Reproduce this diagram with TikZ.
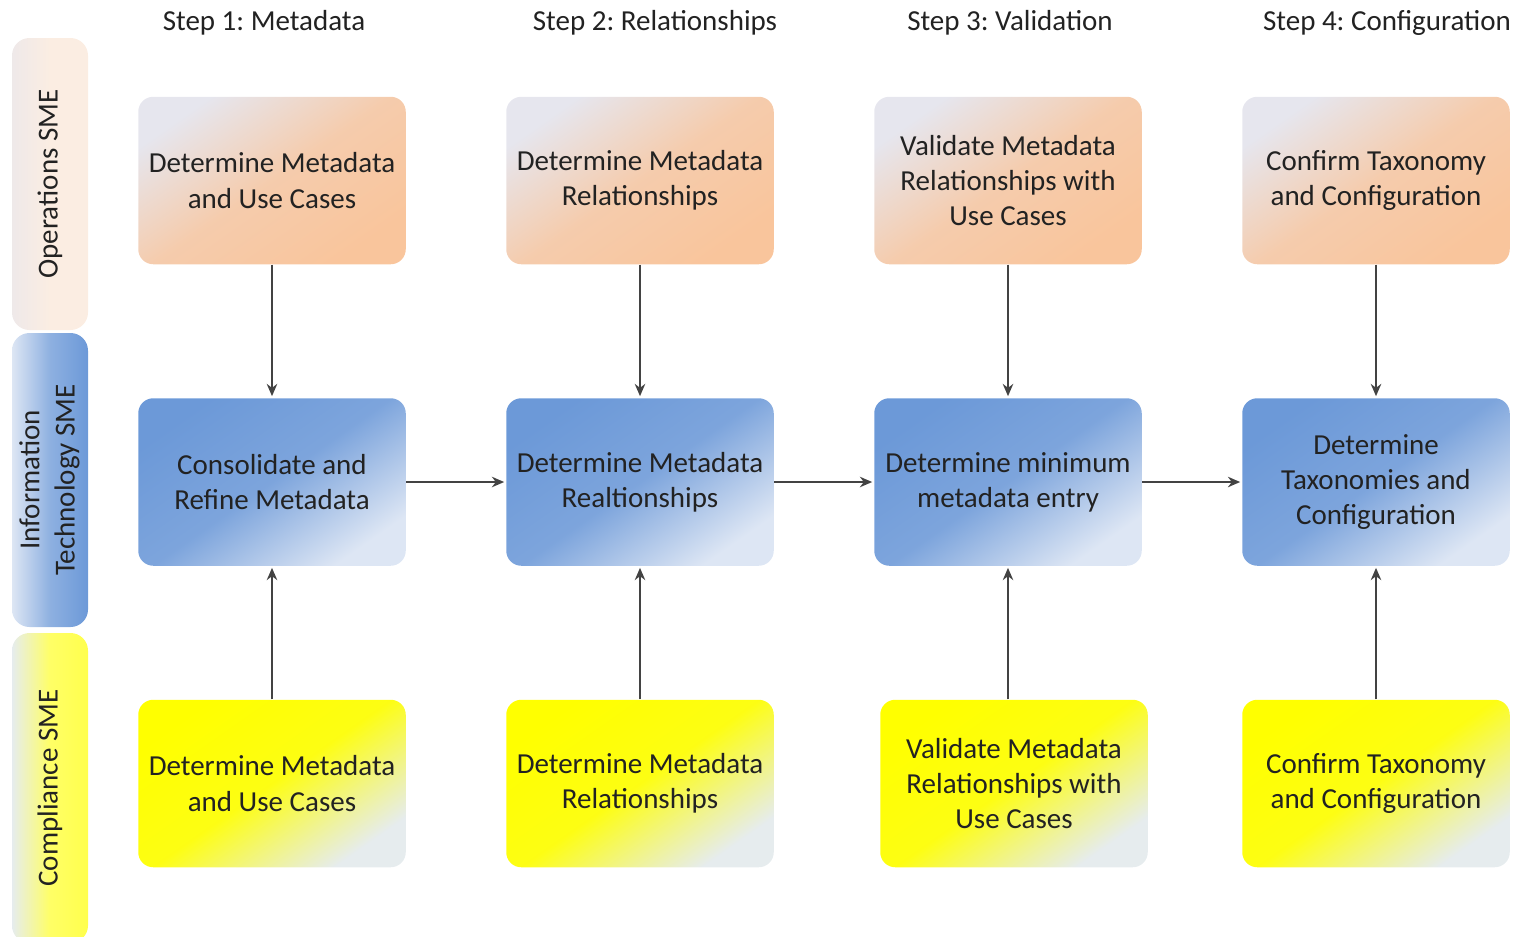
\documentclass[tikz,border=0pt]{standalone}
\usepackage{fontspec}
\setmainfont{Carlito}
\usetikzlibrary{arrows.meta,positioning}
\frenchspacing

\definecolor{opsLight}{HTML}{E6E6EE}
\definecolor{opsDark}{HTML}{F9C59C}
\definecolor{itDark}{HTML}{6C99D8}
\definecolor{itLight}{HTML}{DDE6F4}
\definecolor{compDark}{HTML}{FFFF00}
\definecolor{compLight}{HTML}{E6ECEE}
\definecolor{laneOps}{HTML}{FBEDE2}
\definecolor{inkGray}{HTML}{222222}

\tikzset{
  taskbox/.style={rounded corners=0.3cm, minimum width=5.35cm, minimum height=3.35cm,
    align=center, text=inkGray, font=\fontsize{16.5}{20}\selectfont, inner sep=2pt},
  opsbox/.style={taskbox, top color=opsLight, bottom color=opsDark,
    middle color=opsDark!80!opsLight, shading angle=35},
  itbox/.style={taskbox, top color=itDark, bottom color=itLight,
    middle color=itDark!85!itLight, shading angle=35},
  compbox/.style={taskbox, top color=compDark, bottom color=compLight,
    middle color=compDark!92!compLight, shading angle=35},
  lane/.style={rounded corners=0.35cm, minimum width=1.52cm, align=center, text=inkGray,
    font=\fontsize{16.5}{20}\selectfont, inner sep=0pt},
  steplabel/.style={text=inkGray, font=\fontsize{16.5}{20}\selectfont},
  flow/.style={->, draw=inkGray!85, line width=0.8pt}
}

\begin{document}
\begin{tikzpicture}[>={Stealth[length=7pt,width=6pt]},shorten >=1pt,node distance=6.03cm and 7.36cm,on grid]
  \useasboundingbox (0,0) rectangle (30.48,-18.72);

  % swim lanes
  \node[lane, minimum height=5.84cm, left color=opsLight!60!laneOps, right color=laneOps,
        middle color=laneOps]
       (opsLane) at (1.0,-3.68) {\rotatebox{90}{Operations SME}};
  \node[lane, minimum height=5.88cm, left color=itLight, right color=itDark,
        middle color=itDark!70!itLight]
       (itLane) at (1.0,-9.6) {\rotatebox{90}{\begin{tabular}{c}Information\\Technology SME\end{tabular}}};
  \node[lane, minimum height=6.2cm, left color=compLight, right color=compDark!70!white,
        middle color=compDark!60!white]
       (compLane) at (1.0,-15.76) {\rotatebox{90}{Compliance SME}};

  % step headings
  \node[steplabel] (s1) at (5.28,-0.46)  {Step 1: Metadata};
  \node[steplabel] (s2) at (13.1,-0.46)  {Step 2: Relationships};
  \node[steplabel] (s3) at (20.2,-0.46)  {Step 3: Validation};
  \node[steplabel] (s4) at (27.74,-0.46) {Step 4: Configuration};

  % operations row
  \node[opsbox] (A) at (5.44,-3.61) {Determine Metadata\\and Use Cases};
  \node[opsbox] (B) [right =of A] {Determine Metadata\\Relationships};
  \node[opsbox] (C) [right =of B] {Validate Metadata\\Relationships with\\Use Cases};
  \node[opsbox] (D) [right =of C] {Confirm Taxonomy\\and Configuration};

  % information technology row
  \node[itbox] (E) [below =of A] {Consolidate and\\Refine Metadata};
  \node[itbox] (F) [below =of B] {Determine Metadata\\Realtionships};
  \node[itbox] (G) [below =of C] {Determine minimum\\metadata entry};
  \node[itbox] (H) [below =of D] {Determine\\Taxonomies and\\Configuration};

  % compliance row
  \node[compbox] (I) [below =of E] {Determine Metadata\\and Use Cases};
  \node[compbox] (J) [below =of F] {Determine Metadata\\Relationships};
  \node[compbox] (K) [below =of G, xshift=0.12cm] {Validate Metadata\\Relationships with\\Use Cases};
  \node[compbox] (L) [below =of H] {Confirm Taxonomy\\and Configuration};

\path (A)     edge [flow] (E)
      (B)     edge [flow] (F)
      (C)     edge [flow] (G)
      (D)     edge [flow] (H)
      (I)     edge [flow] (E)
      (J)     edge [flow] (F)
      (K.north -| G.south) edge [flow] (G.south)
      (L)     edge [flow] (H)
      (E)     edge [flow] (F)
      (F)     edge [flow] (G)
      (G)     edge [flow] (H);
\end{tikzpicture}
\end{document}
